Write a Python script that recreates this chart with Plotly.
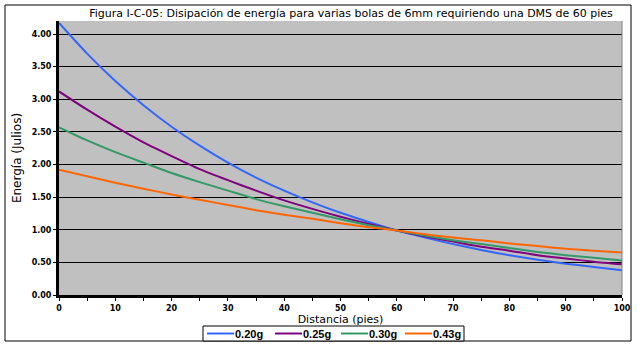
import plotly.graph_objects as go

# Distance along the flight path (feet)
distancia = [0, 5, 10, 15, 20, 25, 30, 35, 40, 45, 50, 55, 60, 65, 70, 75, 80, 85, 90, 95, 100]

# Remaining energy (joules) for each ball weight
e_020 = [4.17, 3.70, 3.28, 2.91, 2.58, 2.29, 2.03, 1.80, 1.60, 1.42, 1.26, 1.12, 0.99,
         0.88, 0.78, 0.69, 0.61, 0.54, 0.48, 0.43, 0.38]
e_025 = [3.12, 2.84, 2.58, 2.34, 2.13, 1.93, 1.76, 1.60, 1.45, 1.32, 1.20, 1.09, 0.99,
         0.90, 0.82, 0.74, 0.68, 0.61, 0.56, 0.51, 0.47]
e_030 = [2.57, 2.37, 2.19, 2.03, 1.87, 1.73, 1.60, 1.47, 1.36, 1.26, 1.16, 1.07, 0.99,
         0.91, 0.84, 0.78, 0.72, 0.66, 0.61, 0.57, 0.53]
e_043 = [1.92, 1.82, 1.72, 1.63, 1.54, 1.46, 1.38, 1.30, 1.23, 1.17, 1.10, 1.04, 0.99,
         0.93, 0.88, 0.84, 0.79, 0.75, 0.71, 0.68, 0.65]

series_names = ["0.20g", "0.25g", "0.30g", "0.43g"]
series_values = [e_020, e_025, e_030, e_043]
series_colors = ["#3366FF", "#800080", "#339966", "#FF6600"]

fig = go.Figure()
for name, vals, color in zip(series_names, series_values, series_colors):
    fig.add_trace(go.Scatter(
        x=distancia, y=vals, name=name, mode="lines",
        line=dict(color=color, width=2, shape="spline", smoothing=0.6),
        showlegend=False,
    ))

W, H = 637, 346
L, R, T, B = 59, 15, 21, 51
pw, ph = W - L - R, H - T - B


def px(x):
    """Pixel column -> paper x fraction."""
    return (x - L) / pw


def py(y):
    """Pixel row -> paper y fraction."""
    return (H - B - y) / ph


tick_font = dict(family="DejaVu Sans", size=8, color="black", weight="bold")

shapes = [
    # outer chart frame
    dict(type="rect", xref="paper", yref="paper",
         x0=px(5), x1=px(631), y0=py(341), y1=py(5),
         line=dict(color="black", width=1), fillcolor="rgba(0,0,0,0)", layer="below"),
    # right edge of the plot area
    dict(type="line", xref="paper", yref="paper",
         x0=1, x1=1, y0=0, y1=1,
         line=dict(color="#808080", width=1)),
    # legend box
    dict(type="rect", xref="paper", yref="paper",
         x0=px(203), x1=px(464), y0=py(341), y1=py(326),
         line=dict(color="black", width=1), fillcolor="white"),
]
annotations = []

# compact legend row: swatch line followed by bold label
legend_starts = [207, 275, 341, 405]
for start, name, color in zip(legend_starts, series_names, series_colors):
    shapes.append(dict(type="line", xref="paper", yref="paper",
                       x0=px(start), x1=px(start + 27), y0=py(333.5), y1=py(333.5),
                       line=dict(color=color, width=2)))
    annotations.append(dict(xref="paper", yref="paper", x=px(start + 27), y=py(333.5),
                            text=name, showarrow=False, xanchor="left", yanchor="middle",
                            xshift=-1,
                            font=dict(family="Liberation Sans", size=11, color="black", weight="bold")))

fig.update_layout(
    width=W, height=H,
    margin=dict(l=L, r=R, t=T, b=B, pad=0, autoexpand=False),
    paper_bgcolor="white",
    plot_bgcolor="#C0C0C0",
    showlegend=False,
    title=dict(
        text="Figura I-C-05: Disipación de energía para varias bolas de 6mm requiriendo una DMS de 60 pies",
        font=dict(family="DejaVu Sans", size=11, color="black"),
        xref="container", x=351 / W, xanchor="center",
        yref="container", y=1 - 13 / H, yanchor="middle",
    ),
    xaxis=dict(
        range=[0, 100], dtick=10, tick0=0,
        showgrid=False, zeroline=False,
        showline=True, linecolor="black", linewidth=3,
        ticks="outside", ticklen=3, tickcolor="black", tickwidth=1,
        minor=dict(dtick=5, ticks="outside", ticklen=3, tickcolor="black", showgrid=False),
        tickfont=tick_font,
        title=dict(text="Distancia (pies)", font=dict(family="DejaVu Sans", size=11, color="black"), standoff=4),
    ),
    yaxis=dict(
        range=[0, 4.2], dtick=0.5, tick0=0, tickformat=".2f",
        showgrid=True, gridcolor="black", gridwidth=1,
        zeroline=False,
        showline=True, linecolor="black", linewidth=3,
        ticks="outside", ticklen=3, tickcolor="black", tickwidth=1,
        tickfont=tick_font,
        title=dict(text="Energía (Julios)", font=dict(family="DejaVu Sans", size=12, color="black"), standoff=8),
    ),
    shapes=shapes,
    annotations=annotations,
)

fig.write_html("out.html")
